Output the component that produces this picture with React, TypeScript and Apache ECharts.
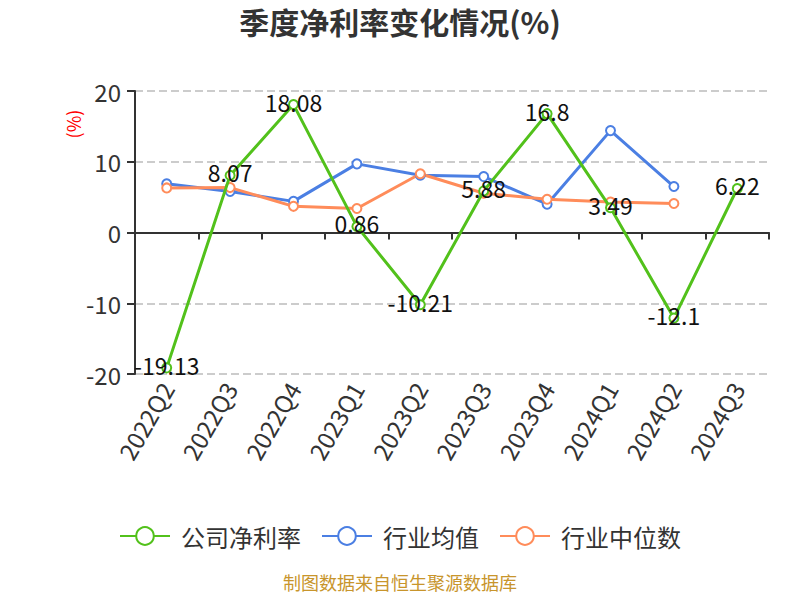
import React, { useEffect, useRef } from "react";
import * as echarts from "echarts";

const categories = ["2022Q2", "2022Q3", "2022Q4", "2023Q1", "2023Q2", "2023Q3", "2023Q4", "2024Q1", "2024Q2", "2024Q3"];
const companyNet = [-19.13, 8.07, 18.08, 0.86, -10.21, 5.88, 16.8, 3.49, -12.1, 6.22];
const industryAvg = [6.9, 5.8, 4.4, 9.7, 8.1, 7.9, 4.0, 14.4, 6.5, null];
const industryMedian = [6.3, 6.35, 3.7, 3.4, 8.3, 5.55, 4.7, 4.3, 4.1, null];
const yTicks = { min: -20, max: 20, interval: 10 };

const FONT = "'Noto Sans CJK SC', 'Noto Sans', sans-serif";

export default function App() {
  const ref = useRef<HTMLDivElement>(null);
  useEffect(() => {
    if (!ref.current) return;
    const chart = echarts.init(ref.current, null, { renderer: "svg" });
    const mkSeries = (name: string, data: any[], color: string, withLabel: boolean) => ({
      name,
      type: "line",
      data,
      symbol: "emptyCircle",
      symbolSize: 9,
      lineStyle: { width: 3, color },
      itemStyle: { color, borderWidth: 2 },
      label: withLabel
        ? { show: true, position: "inside", offset: [0, -3], color: "#111", fontSize: 23, fontFamily: FONT }
        : { show: false },
      z: withLabel ? 3 : 2,
    });
    chart.setOption({
      animation: false,
      textStyle: { fontFamily: FONT },
      title: {
        text: "季度净利率变化情况(%)",
        left: "center",
        top: 1,
        textStyle: { fontSize: 30, fontWeight: "bold", color: "#333", fontFamily: FONT },
      },
      legend: {
        top: 519,
        left: "center",
        itemWidth: 50,
        itemHeight: 22,
        itemGap: 20,
        textStyle: { fontSize: 24, color: "#333", fontFamily: FONT, padding: [0, 0, 0, 6] },
        data: ["公司净利率", "行业均值", "行业中位数"],
      },
      grid: { left: 135, right: 31, top: 91, bottom: 226 },
      xAxis: {
        type: "category",
        data: categories,
        boundaryGap: true,
        axisLine: { onZero: true, lineStyle: { color: "#333", width: 2 } },
        axisTick: { show: true, length: 7, lineStyle: { color: "#333", width: 2 } },
        axisLabel: { rotate: 60, fontSize: 24, color: "#333", margin: 10, interval: 0, fontFamily: FONT },
      },
      yAxis: {
        type: "value",
        min: yTicks.min,
        max: yTicks.max,
        interval: yTicks.interval,
        axisLine: { show: true, lineStyle: { color: "#333", width: 2 } },
        axisTick: { show: true, length: 8, lineStyle: { color: "#333", width: 2 } },
        axisLabel: { fontSize: 24, color: "#333", margin: 14, fontFamily: FONT },
        splitLine: { show: true, lineStyle: { type: "dashed", color: "#ccc", width: 2 } },
      },
      graphic: [
        {
          type: "text",
          x: 73,
          y: 124,
          rotation: Math.PI / 2,
          style: { text: "(%)", fill: "#f00", fontSize: 18, fontFamily: FONT, align: "center", verticalAlign: "middle" },
        },
        {
          type: "text",
          x: 400,
          y: 582,
          style: { text: "制图数据来自恒生聚源数据库", fill: "#c8952c", fontSize: 18, fontFamily: FONT, align: "center", verticalAlign: "middle" },
        },
      ],
      series: [
        mkSeries("公司净利率", companyNet, "#52c11b", true),
        mkSeries("行业均值", industryAvg, "#4b7fe3", false),
        mkSeries("行业中位数", industryMedian, "#ff8c5a", false),
      ],
    });
    return () => chart.dispose();
  }, []);
  return <div ref={ref} style={{ width: 800, height: 600, margin: -8 }} />;
}
